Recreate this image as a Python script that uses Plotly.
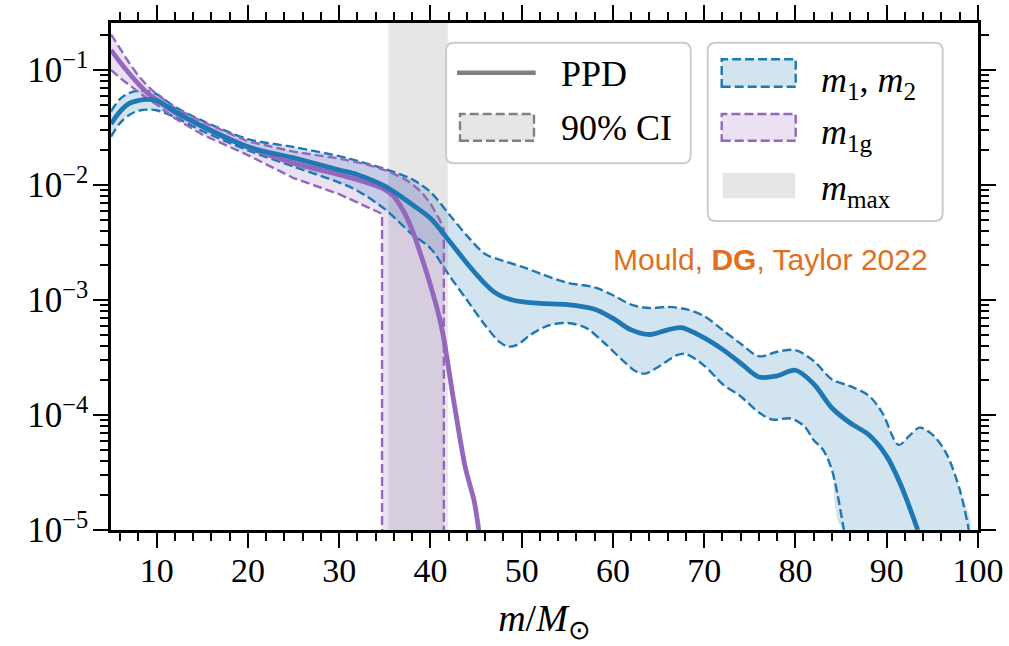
import plotly.graph_objects as go

# ---------------- data ----------------
# m1, m2 population (blue)
blue_x = [5, 6, 7, 8, 9, 10, 12, 15, 20, 25, 30, 32, 35, 38, 40, 42, 44, 46, 47, 48,
          49, 50, 52, 55, 58, 60, 62, 64, 66, 67.5, 70, 72, 74, 76, 78, 80, 82, 84,
          86, 88, 90, 91.5, 93.4]
blue_med = [3.39e-2, 4.37e-2, 5.13e-2, 5.43e-2, 5.56e-2, 5.43e-2, 4.37e-2, 3.24e-2,
            2.15e-2, 1.72e-2, 1.35e-2, 1.23e-2, 9.77e-3, 6.76e-3, 5.13e-3, 3.31e-3,
            2.09e-3, 1.38e-3, 1.17e-3, 1.06e-3, 1.00e-3, 9.66e-4, 9.33e-4, 9.12e-4,
            8.32e-4, 6.92e-4, 5.50e-4, 5.01e-4, 5.50e-4, 5.75e-4, 4.68e-4, 3.72e-4,
            2.82e-4, 2.14e-4, 2.19e-4, 2.45e-4, 1.86e-4, 1.15e-4, 8.51e-5, 6.76e-5,
            4.37e-5, 2.51e-5, 1.0e-5]

blue_up_x = [5, 6, 7, 8, 9, 10, 12, 15, 20, 25, 30, 32, 35, 38, 40, 42, 44, 46, 48,
             50, 52, 55, 58, 60, 62, 64, 66, 68, 70, 72, 74, 76, 78, 80, 82, 84, 86,
             88, 89.5, 91.3, 92.5, 93.6, 95, 96.5, 98, 99]
blue_up = [4.37e-2, 5.62e-2, 6.31e-2, 6.61e-2, 6.53e-2, 6.17e-2, 4.79e-2, 3.63e-2,
           2.51e-2, 2.14e-2, 1.78e-2, 1.62e-2, 1.38e-2, 1.12e-2, 8.71e-3, 5.62e-3,
           3.63e-3, 2.51e-3, 2.19e-3, 1.95e-3, 1.70e-3, 1.41e-3, 1.29e-3, 1.10e-3,
           9.12e-4, 8.51e-4, 8.71e-4, 8.32e-4, 7.24e-4, 5.50e-4, 4.17e-4, 3.24e-4,
           3.55e-4, 3.67e-4, 2.95e-4, 2.04e-4, 1.78e-4, 1.48e-4, 1.05e-4, 5.50e-5,
           6.61e-5, 7.76e-5, 6.76e-5, 4.68e-5, 2.24e-5, 1.0e-5]

blue_lo_x = [5, 6, 7, 8, 9, 10, 12, 15, 20, 25, 30, 32, 35, 38, 40, 42, 44, 46, 47.5,
             48.5, 49.5, 51, 53, 55, 57, 59, 61, 62.5, 63.5, 65, 67, 68, 70, 72, 74,
             76, 77.5, 79.5, 81, 82, 83, 84, 85.3]
blue_lo = [2.63e-2, 3.47e-2, 4.07e-2, 4.42e-2, 4.52e-2, 4.47e-2, 3.89e-2, 2.95e-2,
           2.00e-2, 1.45e-2, 1.05e-2, 8.91e-3, 6.17e-3, 3.72e-3, 2.82e-3, 1.66e-3,
           1.00e-3, 6.03e-4, 4.37e-4, 3.94e-4, 4.07e-4, 5.01e-4, 6.03e-4, 6.31e-4,
           5.75e-4, 4.27e-4, 3.02e-4, 2.40e-4, 2.29e-4, 2.63e-4, 3.31e-4, 3.39e-4,
           2.69e-4, 1.86e-4, 1.45e-4, 1.05e-4, 9.12e-5, 9.33e-5, 7.94e-5, 6.03e-5,
           5.01e-5, 3.31e-5, 1.0e-5]

# m_1g population (purple)
purple_x = [5, 6, 7, 8, 9, 10, 12, 15, 20, 25, 30, 33, 35, 36, 37, 38, 39, 40, 41,
            41.5, 42.5, 43.8, 44.8, 45.3]
purple_med = [1.49e-1, 1.17e-1, 9.33e-2, 7.59e-2, 6.31e-2, 5.50e-2, 4.27e-2, 3.24e-2,
              2.14e-2, 1.55e-2, 1.23e-2, 1.05e-2, 9.12e-3, 7.94e-3, 6.03e-3, 4.07e-3,
              2.40e-3, 1.35e-3, 6.92e-4, 4.47e-4, 1.41e-4, 3.55e-5, 1.78e-5, 1.0e-5]

purple_up_x = [5, 6, 7, 8, 9, 10, 12, 15, 20, 25, 30, 33, 35, 37, 38, 39, 40, 41, 41.47]
purple_up = [2.04e-1, 1.51e-1, 1.15e-1, 8.91e-2, 7.24e-2, 6.17e-2, 4.68e-2, 3.55e-2,
             2.40e-2, 1.95e-2, 1.70e-2, 1.51e-2, 1.35e-2, 1.15e-2, 1.02e-2, 8.71e-3,
             6.92e-3, 5.01e-3, 4.07e-3]

purple_lo_x = [5, 6, 7, 8, 9, 10, 12, 15, 20, 25, 30, 34.7]
purple_lo = [1.00e-1, 8.51e-2, 7.41e-2, 6.46e-2, 5.62e-2, 5.01e-2, 3.80e-2, 2.75e-2,
             1.82e-2, 1.15e-2, 8.32e-3, 5.62e-3]

FLOOR = 1e-9  # bound falls to zero (below the visible range)

# m_max band
mmax_lo, mmax_hi = 35.4, 41.9

# ticks
x_ticks = [10, 20, 30, 40, 50, 60, 70, 80, 90, 100]
y_ticks = [1e-5, 1e-4, 1e-3, 1e-2, 1e-1]
y_ticktext = ["10<sup>−5</sup>", "10<sup>−4</sup>", "10<sup>−3</sup>",
              "10<sup>−2</sup>", "10<sup>−1</sup>"]
y_minor = [m * d for d in [1e-5, 1e-4, 1e-3, 1e-2, 1e-1] for m in range(2, 10)]

BLUE = "#1f77b4"
PURPLE = "#9467bd"
BLUE_FILL = "rgba(31,119,180,0.2)"
PURPLE_FILL = "rgba(148,103,189,0.2)"
GREY_FILL = "rgba(128,128,128,0.2)"
DASH = "9px,4px"
SERIF = "Liberation Serif"

# ---------------- layout geometry ----------------
W, H = 1009, 646
L, R, T, B = 111, 31, 23, 116
PW, PH = W - L - R, H - T - B


def fx(x):
    return (x - L) / PW


def fy(y):
    return (H - B - y) / PH


SM = 0.9
fig = go.Figure()

# blue band
fig.add_trace(go.Scatter(
    x=blue_up_x + blue_lo_x[::-1],
    y=blue_up + blue_lo[::-1],
    fill="toself", fillcolor=BLUE_FILL, line=dict(width=0, shape="spline", smoothing=SM),
    mode="lines", hoverinfo="skip", showlegend=False))
# purple band
fig.add_trace(go.Scatter(
    x=purple_up_x + [purple_up_x[-1], purple_lo_x[-1]] + purple_lo_x[::-1],
    y=purple_up + [FLOOR, FLOOR] + purple_lo[::-1],
    fill="toself", fillcolor=PURPLE_FILL, line=dict(width=0),
    mode="lines", hoverinfo="skip", showlegend=False))

# dashed bounds
for xs, ys in [(blue_up_x, blue_up), (blue_lo_x, blue_lo)]:
    fig.add_trace(go.Scatter(x=xs, y=ys, mode="lines",
                             line=dict(color=BLUE, width=2.4, dash=DASH, shape="spline",
                                       smoothing=SM),
                             hoverinfo="skip", showlegend=False))
for xs, ys in [(purple_up_x + [purple_up_x[-1]], purple_up + [FLOOR]),
               (purple_lo_x + [purple_lo_x[-1]], purple_lo + [FLOOR])]:
    fig.add_trace(go.Scatter(x=xs, y=ys, mode="lines",
                             line=dict(color=PURPLE, width=2.4, dash=DASH),
                             hoverinfo="skip", showlegend=False))

# medians
fig.add_trace(go.Scatter(x=purple_x, y=purple_med, mode="lines",
                         line=dict(color=PURPLE, width=4.8, shape="spline", smoothing=0.6),
                         hoverinfo="skip", showlegend=False))
fig.add_trace(go.Scatter(x=blue_x, y=blue_med, mode="lines",
                         line=dict(color=BLUE, width=4.8, shape="spline", smoothing=SM),
                         hoverinfo="skip", showlegend=False))

shapes = []
# m_max band
shapes.append(dict(type="rect", xref="x", yref="paper", x0=mmax_lo, x1=mmax_hi, y0=0, y1=1,
                   fillcolor=GREY_FILL, line=dict(width=0), layer="below"))


def rrect(x0, y0, x1, y1, r):
    def P(x, y):
        return f"{fx(x):.5f},{fy(y):.5f}"
    return (f"M{P(x0 + r, y0)} L{P(x1 - r, y0)} Q{P(x1, y0)} {P(x1, y0 + r)} "
            f"L{P(x1, y1 - r)} Q{P(x1, y1)} {P(x1 - r, y1)} L{P(x0 + r, y1)} "
            f"Q{P(x0, y1)} {P(x0, y1 - r)} L{P(x0, y0 + r)} Q{P(x0, y0)} {P(x0 + r, y0)} Z")


for box in [(446, 42.7, 690.7, 163.3), (707.7, 42.7, 942.7, 221)]:
    shapes.append(dict(type="path", xref="paper", yref="paper", path=rrect(*box, 8),
                       fillcolor="rgba(255,255,255,0.8)", line=dict(color="#cccccc", width=2),
                       layer="above"))

# legend 1 handles
shapes.append(dict(type="line", xref="paper", yref="paper", x0=fx(457), x1=fx(535.7),
                   y0=fy(72.7), y1=fy(72.7), line=dict(color="#808080", width=4.5), layer="above"))
shapes.append(dict(type="rect", xref="paper", yref="paper", x0=fx(460), x1=fx(534),
                   y0=fy(140.7), y1=fy(114), fillcolor=GREY_FILL,
                   line=dict(color="#808080", width=2.4, dash=DASH), layer="above"))
# legend 2 handles
shapes.append(dict(type="rect", xref="paper", yref="paper", x0=fx(721.7), x1=fx(795.7),
                   y0=fy(86.7), y1=fy(59.3), fillcolor=BLUE_FILL,
                   line=dict(color=BLUE, width=2.4, dash=DASH), layer="above"))
shapes.append(dict(type="rect", xref="paper", yref="paper", x0=fx(721.7), x1=fx(795.7),
                   y0=fy(140.7), y1=fy(114), fillcolor=PURPLE_FILL,
                   line=dict(color=PURPLE, width=2.4, dash=DASH), layer="above"))
shapes.append(dict(type="rect", xref="paper", yref="paper", x0=fx(722.7), x1=fx(795),
                   y0=fy(198.3), y1=fy(172.7), fillcolor=GREY_FILL,
                   line=dict(width=0), layer="above"))

annotations = []


def label(text, x, y, size=36):
    annotations.append(dict(text=text, xref="paper", yref="paper", x=fx(x), y=fy(y),
                            xanchor="left", yanchor="middle", showarrow=False,
                            font=dict(family=SERIF, size=size, color="black")))


label("PPD", 559, 74)
label("90% CI", 559, 128)
label("<i>m</i><sub>1</sub>, <i>m</i><sub>2</sub>", 819, 82)
label("<i>m</i><sub>1g</sub>", 819, 134)
label("<i>m</i><sub>max</sub>", 819, 190)

annotations.append(dict(text="Mould, <b>DG</b>, Taylor 2022", xref="paper", yref="paper",
                        x=fx(929.5), y=fy(259), xanchor="right", yanchor="middle",
                        showarrow=False,
                        font=dict(family="Liberation Sans", size=30, color="#e0701e")))

axis_common = dict(
    showline=True, linewidth=2.5, linecolor="black", mirror="ticks",
    ticks="outside", ticklen=15, tickwidth=2, tickcolor="black",
    showgrid=False, zeroline=False, automargin=False,
)

fig.update_layout(
    width=W, height=H,
    margin=dict(l=L, r=R, t=T, b=B, pad=0),
    plot_bgcolor="white", paper_bgcolor="white",
    shapes=shapes, annotations=annotations,
    xaxis=dict(
        range=[5, 100], tickmode="array", tickvals=x_ticks,
        ticktext=[str(v) for v in x_ticks],
        tickfont=dict(family=SERIF, size=34, color="black"),
        ticklabelstandoff=-7,
        minor=dict(ticks="outside", ticklen=8.5, tickwidth=1.8, tickcolor="black",
                   tick0=0, dtick=2, showgrid=False),
        title=dict(text="<i>m</i>/<i>M</i><sub>⊙</sub>",
                   font=dict(family=SERIF, size=38, color="black"), standoff=17),
        **axis_common),
    yaxis=dict(
        type="log", range=[-5, -0.5913], tickmode="array", tickvals=y_ticks,
        ticktext=y_ticktext,
        tickfont=dict(family=SERIF, size=35, color="black"),
        ticklabelstandoff=-2,
        minor=dict(ticks="outside", ticklen=8.5, tickwidth=1.8, tickcolor="black",
                   tickmode="array", tickvals=y_minor, showgrid=False),
        **axis_common),
)

fig.write_html("out.html")
